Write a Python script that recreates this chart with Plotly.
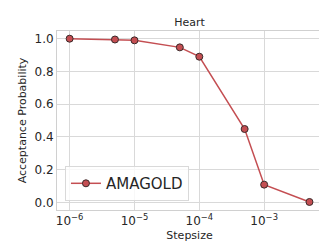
import plotly.graph_objects as go

stepsizes = [1e-6, 5e-6, 1e-5, 5e-5, 1e-4, 5e-4, 1e-3, 5e-3]
acceptance = [1.0, 0.995, 0.99, 0.947, 0.89, 0.448, 0.108, 0.002]
xtick_vals = [1e-6, 1e-5, 1e-4, 1e-3]
xtick_text = ["10<sup>−6</sup>", "10<sup>−5</sup>", "10<sup>−4</sup>", "10<sup>−3</sup>"]
ytick_vals = [0.0, 0.2, 0.4, 0.6, 0.8, 1.0]
ytick_text = ["0.0", "0.2", "0.4", "0.6", "0.8", "1.0"]

red = "#C44E52"
font = "DejaVu Sans"

fig = go.Figure()
fig.add_trace(go.Scatter(
    x=stepsizes, y=acceptance, mode="lines+markers", name="AMAGOLD",
    line=dict(color=red, width=1.5),
    marker=dict(color=red, size=7, line=dict(color="#3a2a2a", width=1)),
))

axis_common = dict(
    showgrid=True, gridcolor="#d9d9d9", gridwidth=1,
    showline=True, linecolor="#d0d0d0", linewidth=1, mirror=True,
    zeroline=False, ticks="", tickfont=dict(family=font, size=12, color="#262626"),
)
fig.update_xaxes(type="log", range=[-6.195, -2.108], tickvals=xtick_vals, ticktext=xtick_text,
                 title=dict(text="Stepsize", font=dict(family=font, size=11, color="#262626"), standoff=3),
                 **axis_common)
fig.update_yaxes(range=[-0.047, 1.047], tickvals=ytick_vals, ticktext=ytick_text,
                 title=dict(text="Acceptance Probability", font=dict(family=font, size=11, color="#262626"), standoff=5),
                 **axis_common)

fig.update_layout(
    width=327, height=245,
    margin=dict(l=49, r=13, t=23, b=43),
    plot_bgcolor="white", paper_bgcolor="white",
    title=dict(text="Heart", x=0.5, xref="paper", xanchor="center",
               y=0.943, yref="container", yanchor="middle",
               font=dict(family=font, size=11, color="#262626")),
    showlegend=True,
    legend=dict(x=0.03, y=0.05, xanchor="left", yanchor="bottom",
                bgcolor="rgba(255,255,255,0.8)", bordercolor="#d9d9d9", borderwidth=1,
                font=dict(family=font, size=15, color="#262626")),
)

fig.write_html("out.html")
